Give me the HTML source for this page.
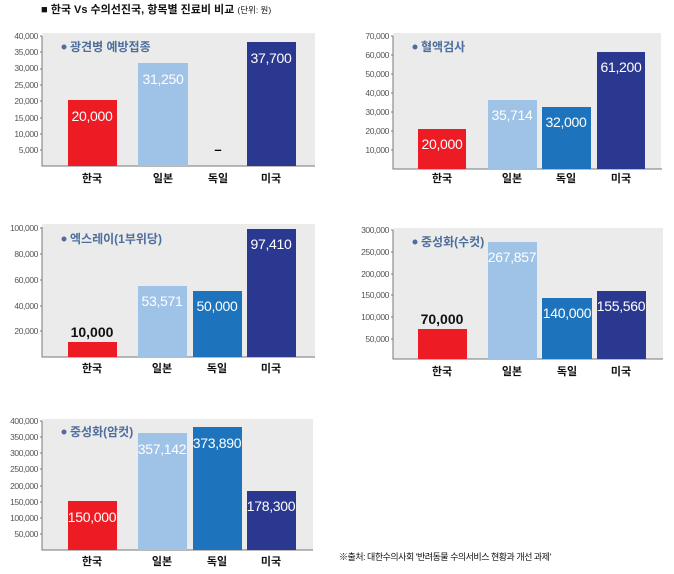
<!DOCTYPE html>
<html><head><meta charset="utf-8"><style>
body{margin:0;background:#fff;}
svg{display:block;font-family:"Liberation Sans","Noto Sans CJK KR",sans-serif;}
.t{font-size:8.5px;fill:#555;text-anchor:end;letter-spacing:-0.4px}
.v{font-size:14px;fill:#fff;text-anchor:middle;letter-spacing:-0.3px}
.vb{font-size:14px;fill:#111;text-anchor:middle;font-weight:bold}
.c{font-size:11px;fill:#111;text-anchor:middle;font-weight:bold}
.lg{font-size:12px;fill:#4d6e9c;font-weight:bold}
.ax{stroke:#777;stroke-width:1;fill:none}
</style></head><body>
<svg width="674" height="574" viewBox="0 0 674 574">
<text x="41" y="13" font-size="11" font-weight="bold" fill="#111">■ 한국 Vs 수의선진국, 항목별 진료비 비교 <tspan font-size="8.5" font-weight="normal">(단위: 원)</tspan></text>

<!-- chart 1 -->
<rect x="42" y="33" width="273" height="133" fill="#ebebeb"/>
<path class="ax" d="M42 36V166H315"/>
<g class="t"><text x="38" y="39">40,000</text><text x="38" y="55">35,000</text><text x="38" y="71">30,000</text><text x="38" y="88">25,000</text><text x="38" y="104">20,000</text><text x="38" y="121">15,000</text><text x="38" y="137">10,000</text><text x="38" y="153">5,000</text></g>
<path class="ax" d="M40 36h2M40 52h2M40 69h2M40 85h2M40 101h2M40 118h2M40 134h2M40 150h2"/>
<circle cx="64" cy="47" r="2.5" fill="#4d6e9c"/><text class="lg" x="70" y="51">광견병 예방접종</text>
<rect x="68" y="100" width="49" height="66" fill="#ed1c24"/>
<rect x="138" y="63" width="50" height="103" fill="#9fc2e7"/>
<rect x="247" y="42" width="49" height="124" fill="#2b388f"/>
<text class="v" x="92" y="121">20,000</text><text class="v" x="163" y="84">31,250</text><text class="v" x="271" y="63">37,700</text>
<text x="218" y="154" font-size="13" font-weight="bold" text-anchor="middle">–</text>
<g class="c"><text x="92" y="182">한국</text><text x="163" y="182">일본</text><text x="218" y="182">독일</text><text x="271" y="182">미국</text></g>

<!-- chart 2 -->
<rect x="393" y="33" width="268" height="136" fill="#ebebeb"/>
<path class="ax" d="M393 36V169H662"/>
<g class="t"><text x="389" y="39">70,000</text><text x="389" y="58">60,000</text><text x="389" y="77">50,000</text><text x="389" y="96">40,000</text><text x="389" y="115">30,000</text><text x="389" y="134">20,000</text><text x="389" y="153">10,000</text></g>
<path class="ax" d="M391 36h2M391 55h2M391 74h2M391 93h2M391 112h2M391 131h2M391 150h2"/>
<circle cx="415" cy="47" r="2.5" fill="#4d6e9c"/><text class="lg" x="421" y="51">혈액검사</text>
<rect x="418" y="129" width="48" height="40" fill="#ed1c24"/>
<rect x="488" y="100" width="49" height="69" fill="#9fc2e7"/>
<rect x="542" y="107" width="49" height="62" fill="#1d74bc"/>
<rect x="597" y="52" width="48" height="117" fill="#2b388f"/>
<text class="v" x="442" y="149">20,000</text><text class="v" x="512" y="120">35,714</text><text class="v" x="566" y="127">32,000</text><text class="v" x="621" y="72">61,200</text>
<g class="c"><text x="442" y="182">한국</text><text x="512" y="182">일본</text><text x="566" y="182">독일</text><text x="621" y="182">미국</text></g>

<!-- chart 3 -->
<rect x="42" y="224" width="273" height="133" fill="#ebebeb"/>
<path class="ax" d="M42 227V357H315"/>
<g class="t"><text x="38" y="231">100,000</text><text x="38" y="257">80,000</text><text x="38" y="283">60,000</text><text x="38" y="309">40,000</text><text x="38" y="334">20,000</text></g>
<path class="ax" d="M40 228h2M40 254h2M40 280h2M40 306h2M40 331h2"/>
<circle cx="64" cy="239" r="2.5" fill="#4d6e9c"/><text class="lg" x="70" y="243">엑스레이(1부위당)</text>
<rect x="68" y="342" width="49" height="15" fill="#ed1c24"/>
<rect x="138" y="286" width="49" height="71" fill="#9fc2e7"/>
<rect x="193" y="291" width="49" height="66" fill="#1d74bc"/>
<rect x="247" y="229" width="49" height="128" fill="#2b388f"/>
<text class="vb" x="92" y="337">10,000</text><text class="v" x="162" y="306">53,571</text><text class="v" x="217" y="311">50,000</text><text class="v" x="271" y="249">97,410</text>
<g class="c"><text x="92" y="372">한국</text><text x="162" y="372">일본</text><text x="217" y="372">독일</text><text x="271" y="372">미국</text></g>

<!-- chart 4 -->
<rect x="393" y="228" width="270" height="131" fill="#ebebeb"/>
<path class="ax" d="M393 230V359H663"/>
<g class="t"><text x="389" y="233">300,000</text><text x="389" y="255">250,000</text><text x="389" y="277">200,000</text><text x="389" y="298">150,000</text><text x="389" y="320">100,000</text><text x="389" y="342">50,000</text></g>
<path class="ax" d="M391 230h2M391 252h2M391 274h2M391 295h2M391 317h2M391 339h2"/>
<circle cx="415" cy="242" r="2.5" fill="#4d6e9c"/><text class="lg" x="421" y="246">중성화(수컷)</text>
<rect x="418" y="329" width="49" height="30" fill="#ed1c24"/>
<rect x="488" y="242" width="49" height="117" fill="#9fc2e7"/>
<rect x="542" y="298" width="50" height="61" fill="#1d74bc"/>
<rect x="597" y="291" width="49" height="68" fill="#2b388f"/>
<text class="vb" x="442" y="324">70,000</text><text class="v" x="512" y="262">267,857</text><text class="v" x="567" y="318">140,000</text><text class="v" x="621" y="311">155,560</text>
<g class="c"><text x="442" y="375">한국</text><text x="512" y="375">일본</text><text x="567" y="375">독일</text><text x="621" y="375">미국</text></g>

<!-- chart 5 -->
<rect x="42" y="419" width="271" height="131" fill="#ebebeb"/>
<path class="ax" d="M42 421V550H313"/>
<g class="t"><text x="38" y="424">400,000</text><text x="38" y="440">350,000</text><text x="38" y="456">300,000</text><text x="38" y="472">250,000</text><text x="38" y="489">200,000</text><text x="38" y="505">150,000</text><text x="38" y="521">100,000</text><text x="38" y="537">50,000</text></g>
<path class="ax" d="M40 421h2M40 437h2M40 453h2M40 469h2M40 486h2M40 502h2M40 518h2M40 534h2"/>
<circle cx="64" cy="432" r="2.5" fill="#4d6e9c"/><text class="lg" x="70" y="436">중성화(암컷)</text>
<rect x="68" y="501" width="49" height="49" fill="#ed1c24"/>
<rect x="138" y="433" width="49" height="117" fill="#9fc2e7"/>
<rect x="193" y="427" width="49" height="123" fill="#1d74bc"/>
<rect x="247" y="491" width="49" height="59" fill="#2b388f"/>
<text class="v" x="92" y="522">150,000</text><text class="v" x="162" y="454">357,142</text><text class="v" x="217" y="448">373,890</text><text class="v" x="271" y="511">178,300</text>
<g class="c"><text x="92" y="565">한국</text><text x="162" y="565">일본</text><text x="217" y="565">독일</text><text x="271" y="565">미국</text></g>
<text x="339" y="560" font-size="9" fill="#111" letter-spacing="-0.5">※출처: 대한수의사회 '반려동물 수의서비스 현황과 개선 과제'</text>
</svg>
</body></html>
